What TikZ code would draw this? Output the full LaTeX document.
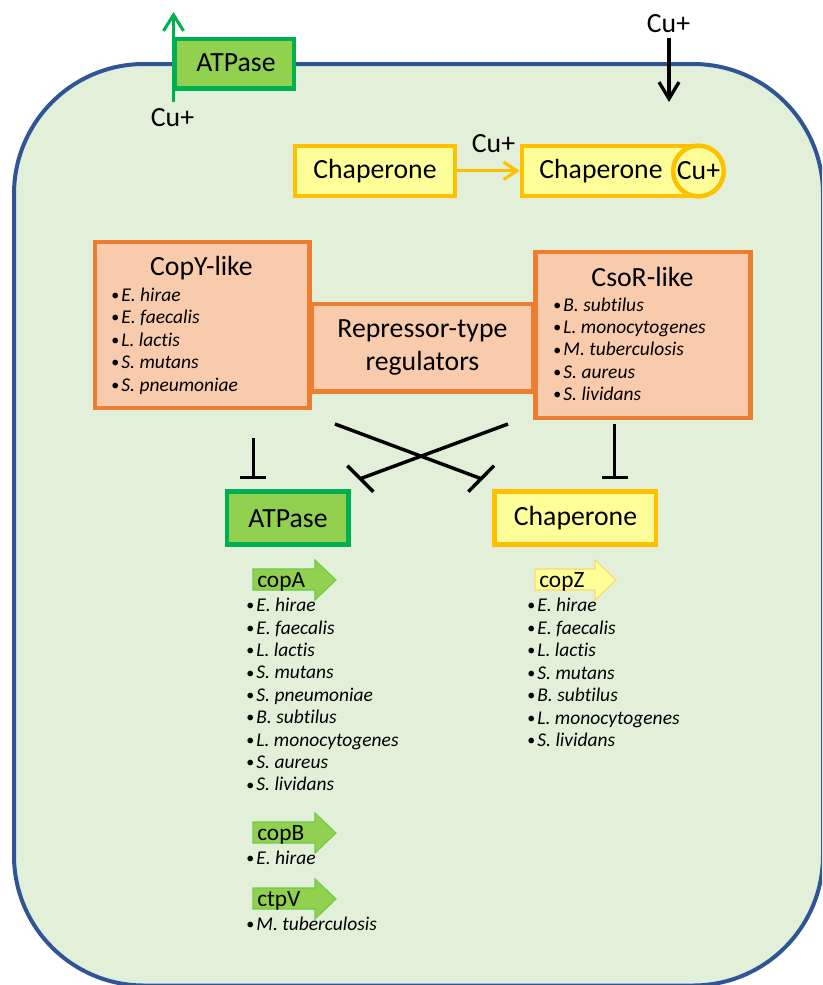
\documentclass[tikz,border=0pt]{standalone}
\usepackage{fontspec}
\setmainfont{Carlito}[Ligatures=CommonOff]
\usetikzlibrary{arrows.meta}
\definecolor{cellfill}{HTML}{E2F0D9}
\definecolor{celldraw}{HTML}{2F5597}
\definecolor{grfill}{HTML}{92D050}
\definecolor{grdraw}{HTML}{00B050}
\definecolor{yefill}{HTML}{FFFF99}
\definecolor{yedraw}{HTML}{FFC000}
\definecolor{orfill}{HTML}{F8CBAD}
\definecolor{ordraw}{HTML}{ED7D31}
\definecolor{genegrd}{HTML}{6DCB45}
\definecolor{geneyed}{HTML}{FFD966}
\newcommand{\spbul}{\makebox[7.6pt][l]{\fontsize{12}{12}\selectfont\upshape\raisebox{0.05em}{•}}}
\begin{document}
\begin{tikzpicture}[x=0.75pt,y=-0.75pt,
  lbl/.style={font=\fontsize{20.8}{24}\selectfont, text=black, inner sep=0pt},
  sp/.style={font=\fontsize{14.6}{17}\selectfont\itshape, anchor=base west, inner sep=0pt, text=black},
  genel/.style={font=\fontsize{17.5}{20}\selectfont, anchor=base west, inner sep=0pt, text=black},
  gbox/.style={draw=grdraw, fill=grfill, line width=3.4pt, inner sep=0pt},
  ybox/.style={draw=yedraw, fill=yefill, line width=3.4pt, inner sep=0pt},
  obox/.style={draw=ordraw, fill=orfill, line width=3.3pt, inner sep=0pt},
  genegreen/.style={fill=grfill, draw=genegrd, line width=0.8pt},
  geneyellow/.style={fill=yefill, draw=geneyed, line width=0.8pt},
  inh/.style={line width=2.6pt, draw=black},
]
\useasboundingbox (0,0) rectangle (822,985);
% cell
\begin{scope}
\clip (0,0) rectangle (822,985);
\draw[draw=celldraw, fill=cellfill, line width=3pt, rounded corners=97.5pt] (14,64) rectangle (823,985.5);
\end{scope}

% membrane ATPase and export arrow
\node[gbox, minimum width=89pt, minimum height=37pt] (atp1) at (234.5,63.7) {};
\node[lbl] (atp1t) at (236,63) {ATPase};
\coordinate (ex0) at (173.5,102);
\coordinate (ex1) at (173.5,12);
\draw[draw=grdraw, line width=2.3pt, -{Straight Barb[length=12pt,width=15pt]}] (ex0) -- (ex1);
\node[lbl] (cu1) at (172.5,118) {Cu+};

% import arrow
\node[lbl] (cu2) at (668.5,23.5) {Cu+};
\coordinate (im0) at (669,38);
\coordinate (im1) at (669,102);
\draw[draw=black, line width=2.5pt, -{Straight Barb[length=12.5pt,width=15pt]}] (im0) -- (im1);

% chaperones top
\node[ybox, minimum width=120.3pt, minimum height=37.5pt] (ch1) at (375,170.8) {};
\node[lbl] (ch1t) at (375,171) {Chaperone};
\node[ybox, minimum width=126pt, minimum height=37.5pt] (ch2) at (606,170.8) {};
\node[ybox, circle, minimum size=38pt] (cuc) at (698.5,171) {};
\node[lbl] (ch2t) at (601,171) {Chaperone};
\node[lbl] (cu3) at (698.5,171) {Cu+};
\draw[draw=yedraw, line width=2.3pt, -{Straight Barb[length=10pt,width=13pt]}] (ch1.east) -- (ch2.west);
\node[lbl] (cu4) at (493.5,143.3) {Cu+};

% regulators
\node[obox, minimum width=166pt, minimum height=65.8pt] (rep) at (422.4,347.8) {};
\node[obox, minimum width=160.8pt, minimum height=124.5pt] (copy) at (202.2,324.7) {};
\node[obox, minimum width=161pt, minimum height=124.5pt] (csor) at (643,334.7) {};
\node[lbl, align=center, font=\fontsize{20.8}{24.75}\selectfont] (rept) at (422.4,347.5) {Repressor-type\\regulators};
\node[lbl, anchor=base] (copyt) at (201.5,275) {CopY-like};
\node[lbl, anchor=base] (csort) at (642.5,286) {CsoR-like};
\foreach \s [count=\i] in {E. hirae, E. faecalis, L. lactis, S. mutans, S. pneumoniae}
  \node[sp] (cy\i) at (111,{301+22.5*(\i-1)}) {\spbul\s};
\foreach \s [count=\i] in {B. subtilus, L. monocytogenes, M. tuberculosis, S. aureus, S. lividans}
  \node[sp] (cs\i) at (553,{311+22.4*(\i-1)}) {\spbul\s};

% targets
\node[gbox, line width=3.3pt, minimum width=90.8pt, minimum height=39.6pt] (atp2) at (287.8,518) {};
\node[lbl] (atp2t) at (288,518.5) {ATPase};
\node[ybox, line width=3.3pt, minimum width=120.8pt, minimum height=39.6pt] (ch3) at (575.2,518) {};
\node[lbl] (ch3t) at (575.5,518.5) {Chaperone};

% inhibition
\coordinate (a1) at (253.3,438); \coordinate (a2) at (253.3,479);
\draw[inh, -{Bar[width=19.5pt]}] (a1) -- (a2);
\coordinate (b1) at (614.5,424); \coordinate (b2) at (614.5,479);
\draw[inh, -{Bar[width=19.5pt]}] (b1) -- (b2);
\coordinate (c1) at (335,424); \coordinate (c2) at (481.2,478.7);
\coordinate (c3) at (468.3,491.7); \coordinate (c4) at (494,465.7);
\draw[inh] (c1) -- (c2) (c3) -- (c4);
\coordinate (d1) at (508,424); \coordinate (d2) at (360.3,478.7);
\coordinate (d3) at (347.3,465.7); \coordinate (d4) at (373.3,491.7);
\draw[inh] (d1) -- (d2) (d3) -- (d4);

% genes
\draw[genegreen] (253,569) -- (315,569) -- (315,560) -- (336,580) -- (315,600) -- (315,590) -- (253,590) -- cycle;
\node[genel] (copa) at (257,587) {copA};
\foreach \s [count=\i] in {E. hirae, E. faecalis, L. lactis, S. mutans, S. pneumoniae, B. subtilus, L. monocytogenes, S. aureus, S. lividans}
  \node[sp] (ga\i) at (246,{611.7+22.4*(\i-1)}) {\spbul\s};

\draw[geneyellow] (535,569) -- (595,569) -- (595,560) -- (616,580) -- (595,600) -- (595,590) -- (535,590) -- cycle;
\node[genel] (copz) at (539,587) {copZ};
\foreach \s [count=\i] in {E. hirae, E. faecalis, L. lactis, S. mutans, B. subtilus, L. monocytogenes, S. lividans}
  \node[sp] (gz\i) at (527,{611.7+22.5*(\i-1)}) {\spbul\s};

\draw[genegreen] (253,822) -- (315,822) -- (315,813) -- (336,833) -- (315,853) -- (315,843) -- (253,843) -- cycle;
\node[genel] (copb) at (257,840.5) {copB};
\node[sp] (gb1) at (246,864) {\spbul E. hirae};

\draw[genegreen] (253,888) -- (315,888) -- (315,879) -- (336,899) -- (315,919) -- (315,909) -- (253,909) -- cycle;
\node[genel] (ctpv) at (257,906.5) {ctpV};
\node[sp] (gc1) at (246,930) {\spbul M. tuberculosis};
\end{tikzpicture}
\end{document}
